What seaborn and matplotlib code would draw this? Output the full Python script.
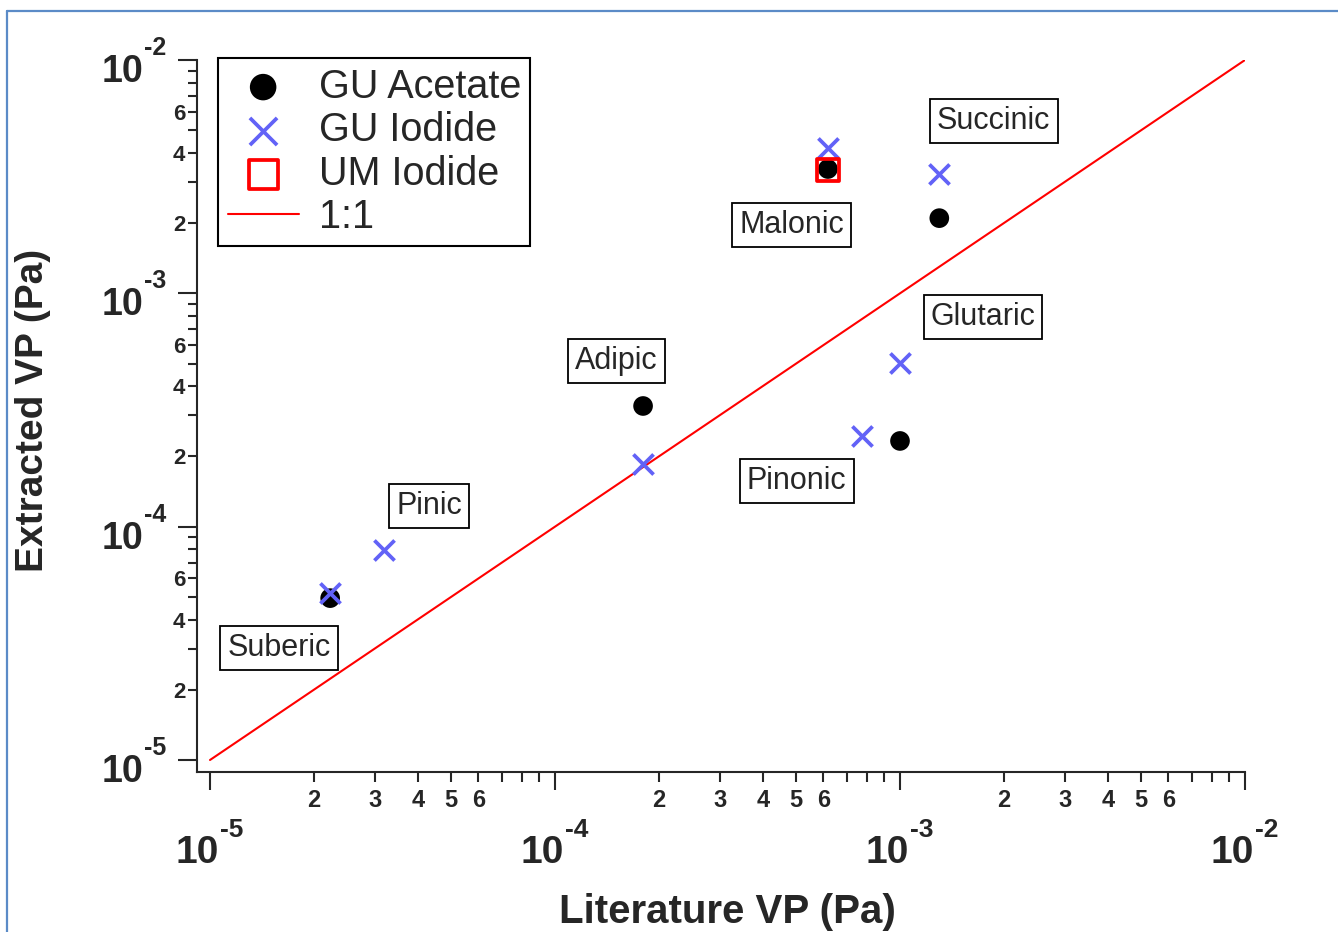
import math
import matplotlib
matplotlib.use("Agg")
import matplotlib.pyplot as plt
import matplotlib.ticker as mticker
from matplotlib.lines import Line2D
import seaborn as sns

# values (Pa)
acetate_lit = [2.23e-5, 1.80e-4, 6.18e-4, 1.30e-3, 1.00e-3]
acetate_ext = [4.94e-5, 3.29e-4, 3.41e-3, 2.10e-3, 2.33e-4]

iodide_lit = [2.23e-5, 3.19e-5, 1.80e-4, 6.18e-4, 1.30e-3, 1.00e-3, 7.76e-4]
iodide_ext = [5.20e-5, 7.94e-5, 1.86e-4, 4.20e-3, 3.25e-3, 5.02e-4, 2.45e-4]

um_lit = [6.18e-4]
um_ext = [3.38e-3]

one_to_one = [1e-5, 1e-2]

acid_names = ["Succinic", "Malonic", "Glutaric", "Adipic", "Pinonic", "Pinic", "Suberic"]

sns.set_style("ticks")
plt.rcParams["font.family"] = ["Liberation Sans", "DejaVu Sans"]

fig = plt.figure(figsize=(13.38, 9.32), dpi=100)
ax = fig.add_axes([197 / 1338, 160 / 932, 1048 / 1338, 712 / 932])

blue = "#6262f7"

sns.lineplot(x=one_to_one, y=one_to_one, ax=ax, color="red", linewidth=1.5,
             label="1:1", zorder=2)
sns.scatterplot(x=acetate_lit, y=acetate_ext, ax=ax, color="black", marker="o",
                s=200, edgecolor="none", label="GU Acetate", zorder=3)
sns.scatterplot(x=iodide_lit, y=iodide_ext, ax=ax, color=blue, marker="x",
                s=210, linewidth=2.7, label="GU Iodide", zorder=4)
sns.scatterplot(x=um_lit, y=um_ext, ax=ax, marker="s", s=240, facecolor="none",
                edgecolor="red", linewidth=2.7, label="UM Iodide", zorder=5)

ax.set_xscale("log")
ax.set_yscale("log")
ax.set_xlim(10 ** (-5 - 13 / 345), 1e-2)
ax.set_ylim(10 ** (-5 - 12 / 233.3), 1e-2)

sns.despine(ax=ax)
for s in ["left", "bottom"]:
    ax.spines[s].set_linewidth(1.5)

majors = [1e-5, 1e-4, 1e-3, 1e-2]
minors = [k * 10.0 ** e for e in (-5, -4, -3) for k in range(2, 10)]


def minor_label(keep):
    def f(v, pos):
        m = int(round(v / 10 ** math.floor(math.log10(v) + 1e-9)))
        return str(m) if m in keep else ""
    return f


for axis, keep in ((ax.xaxis, (2, 3, 4, 5, 6)), (ax.yaxis, (2, 4, 6))):
    axis.set_major_locator(mticker.FixedLocator(majors))
    axis.set_minor_locator(mticker.FixedLocator(minors))
    axis.set_major_formatter(mticker.NullFormatter())
    axis.set_minor_formatter(mticker.FuncFormatter(minor_label(keep)))

ax.tick_params(axis="x", which="major", length=13, width=1.5)
ax.tick_params(axis="x", which="minor", length=7, width=1.5, labelsize=17, pad=5)
ax.tick_params(axis="y", which="major", length=13.5, width=1.5)
ax.tick_params(axis="y", which="minor", length=6.5, width=1.5, labelsize=16, pad=2)
for lab in ax.get_xticklabels(minor=True) + ax.get_yticklabels(minor=True):
    lab.set_fontweight("bold")

# decade labels: "10" with a raised exponent
for v in majors:
    e = str(int(round(math.log10(v))))
    ax.annotate("10", xy=(v, 0), xycoords=ax.get_xaxis_transform(),
                xytext=(6.5, -65.5), textcoords="offset points", ha="right",
                va="baseline", fontsize=28, fontweight="bold", annotation_clip=False)
    ax.annotate(e, xy=(v, 0), xycoords=ax.get_xaxis_transform(),
                xytext=(7.5, -46.8), textcoords="offset points", ha="left",
                va="baseline", fontsize=19, fontweight="bold", annotation_clip=False)
    ax.annotate("10", xy=(0, v), xycoords=ax.get_yaxis_transform(),
                xytext=(-38.9, -15.8), textcoords="offset points", ha="right",
                va="baseline", fontsize=27, fontweight="bold", annotation_clip=False)
    ax.annotate(e, xy=(0, v), xycoords=ax.get_yaxis_transform(),
                xytext=(-38.0, 3.6), textcoords="offset points", ha="left",
                va="baseline", fontsize=18, fontweight="bold", annotation_clip=False)

ax.set_xlabel("Literature VP (Pa)", fontsize=29, fontweight="bold", va="center")
ax.xaxis.set_label_coords((727 - 197) / 1048, (772 - 912) / 712)
ax.set_ylabel("Extracted VP (Pa)", fontsize=28, fontweight="bold", va="center")
ax.yaxis.set_label_coords((33 - 197) / 1048, (772 - 410) / 712)

# legend
h, l = ax.get_legend_handles_labels()
order = [l.index(n) for n in ["GU Acetate", "GU Iodide", "UM Iodide", "1:1"]]
leg = ax.legend([h[i] for i in order], [l[i] for i in order], loc="upper left",
                bbox_to_anchor=((218 - 197) / 1048, (772 - 58) / 712),
                borderaxespad=0, fontsize=28.5, markerscale=1.35, handlelength=1.8,
                handletextpad=0.5, labelspacing=0.14, borderpad=0.24,
                fancybox=False, framealpha=1, edgecolor="black")
leg.get_frame().set_linewidth(1.5)

# acid labels
label_pos = {
    "Succinic": (1.87e-3, 5.48e-3),
    "Malonic": (4.86e-4, 1.96e-3),
    "Glutaric": (1.74e-3, 7.92e-4),
    "Adipic": (1.51e-4, 5.13e-4),
    "Pinonic": (5.02e-4, 1.57e-4),
    "Pinic": (4.31e-5, 1.23e-4),
    "Suberic": (1.585e-5, 3.02e-5),
}
for name in acid_names:
    x, y = label_pos[name]
    ax.text(x, y, name, fontsize=22, ha="center", va="center", zorder=6,
            bbox=dict(boxstyle="square,pad=0.23", facecolor="white",
                      edgecolor="black", linewidth=1.3))

# page frame
frame = "#5b8bc7"
fig.add_artist(Line2D([7 / 1338, 1.0], [1 - 11 / 932, 1 - 11 / 932],
                      transform=fig.transFigure, color=frame, lw=1.6))
fig.add_artist(Line2D([7 / 1338, 7 / 1338], [0, 1 - 11 / 932],
                      transform=fig.transFigure, color=frame, lw=1.6))

fig.savefig("out.png", dpi=100)
